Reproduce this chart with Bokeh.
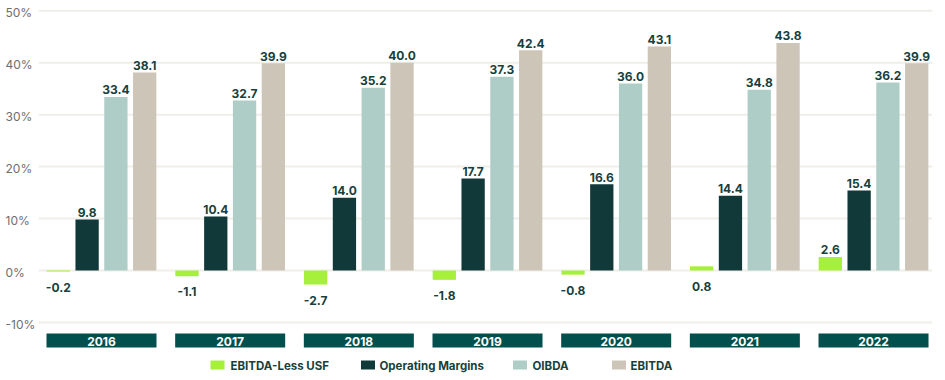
from bokeh.plotting import figure
from bokeh.models import Range1d, ColumnDataSource
from bokeh.embed import file_html
from bokeh.resources import INLINE
from bokeh.core.properties import value

# ---------------- data ----------------
years = ["2016", "2017", "2018", "2019", "2020", "2021", "2022"]
ebitda_less_usf = [-0.2, -1.1, -2.7, -1.8, -0.8, 0.8, 2.6]
operating_margins = [9.8, 10.4, 14.0, 17.7, 16.6, 14.4, 15.4]
oibda = [33.4, 32.7, 35.2, 37.3, 36.0, 34.8, 36.2]
ebitda = [38.1, 39.9, 40.0, 42.4, 43.1, 43.8, 39.9]
series_names = ["EBITDA-Less USF", "Operating Margins", "OIBDA", "EBITDA"]
y_ticks = [-10, 0, 10, 20, 30, 40, 50]
y_tick_labels = ["-10%", "0%", "10%", "20%", "30%", "40%", "50%"]

# ---------------- style ----------------
series_colors = ["#a6f03b", "#11393a", "#aecdc7", "#cdc5b8"]
FONT = value("Inter")
LABEL_COLOR = "#173f3e"
GRID_COLOR = "#efeee8"
BOX_COLOR = "#02504e"

W, H = 945, 380
PX_GROUP = 128.67     # pixels per category
PX_PCT = 5.195        # pixels per percentage point
X0_PX = 101.0         # canvas x of the first category centre
Y0_PX = 270.0         # canvas y of the 0% line


def xd(px):
    return (px - X0_PX) / PX_GROUP


def yd(py):
    return (Y0_PX - py) / PX_PCT


p = figure(width=W, height=H,
           x_range=Range1d(xd(0), xd(W)), y_range=Range1d(yd(H), yd(0)),
           output_backend="svg", toolbar_location=None,
           x_axis_location=None, y_axis_location=None, min_border=0)
p.outline_line_color = None
p.grid.grid_line_color = None
p.background_fill_color = "white"
p.border_fill_color = "white"

# grid lines
n = len(y_ticks)
p.segment(x0=[xd(38.3)] * n, x1=[xd(931.7)] * n, y0=y_ticks, y1=y_ticks,
          line_color=GRID_COLOR, line_width=2)

# y tick labels
p.text(x=[xd(5)] * n, y=y_ticks, text=y_tick_labels, text_font=FONT,
       text_font_size="12px", text_color="#6e6e6e", text_align="left",
       text_baseline="middle", y_offset=2)

# bars
BAR_PITCH = 0.2238
BAR_W = 0.181
all_series = [ebitda_less_usf, operating_margins, oibda, ebitda]
for k, (vals, color) in enumerate(zip(all_series, series_colors)):
    off = (k - 1.5) * BAR_PITCH
    xs = [i + off for i in range(len(years))]
    p.vbar(x=xs, top=vals, bottom=0, width=BAR_W, fill_color=color,
           line_color=None)
    ly = [v if v >= 1 else min(v, 0) for v in vals]
    yoff = [-7 if v >= 1 else 15.5 for v in vals]
    src = ColumnDataSource(dict(x=xs, y=ly, t=["%.1f" % v for v in vals], yo=yoff))
    p.text(x="x", y="y", text="t", y_offset="yo", source=src, text_font=FONT,
           text_font_size="12px", text_font_style="bold",
           text_color=LABEL_COLOR, text_align="center",
           text_baseline="alphabetic")

# category boxes
CAT_Y = yd(340)
cx = list(range(len(years)))
p.rect(x=cx, y=[CAT_Y] * len(years), width=0.855, height=14,
       height_units="screen", fill_color=BOX_COLOR, line_color=None)
p.text(x=cx, y=[CAT_Y] * len(years), text=years, text_font=FONT,
       text_font_size="12px", text_font_style="bold", text_color="white",
       text_align="center", text_baseline="middle", y_offset=0.5)

# legend
LEG_Y = yd(364.5)
leg_sq_px = [217, 367.5, 519.5, 618.5]
leg_tx_px = [230, 379, 532, 630]
p.rect(x=[xd(v) for v in leg_sq_px], y=[LEG_Y] * 4, width=14, height=9,
       width_units="screen", height_units="screen",
       fill_color=series_colors, line_color=None)
p.text(x=[xd(v) for v in leg_tx_px], y=[LEG_Y] * 4, text=series_names,
       text_font=FONT, text_font_size="11.5px", text_font_style="bold",
       text_color=LABEL_COLOR, text_align="left", text_baseline="middle",
       y_offset=0.5)

open("out.html", "w").write(file_html(p, INLINE))
